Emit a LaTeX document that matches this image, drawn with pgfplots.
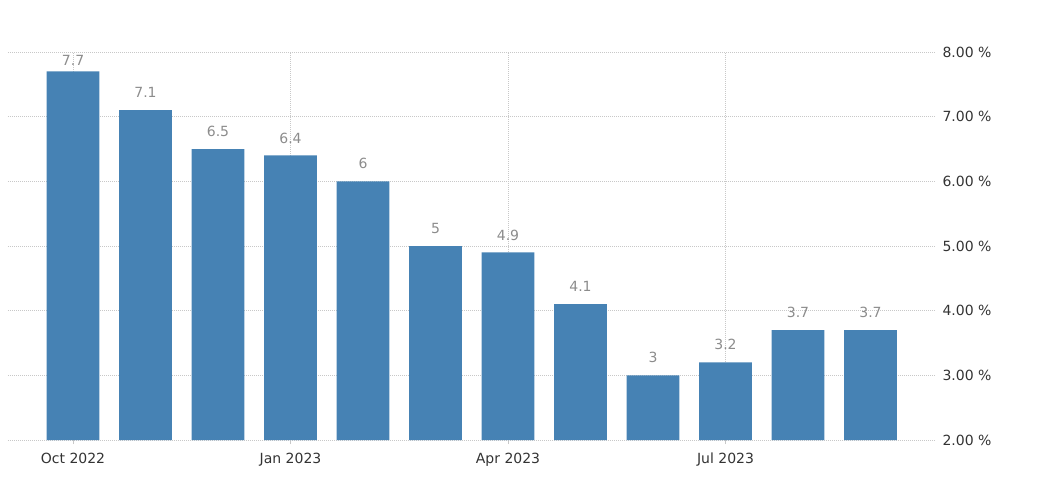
\documentclass[border=0pt]{standalone}
\usepackage{pgfplots}
\pgfplotsset{compat=1.18}
\usepackage{pgfplotstable}
\usepackage{fontspec}
\setmainfont{DejaVu Sans}
\definecolor{barblue}{HTML}{4682B4}
\definecolor{lblgray}{HTML}{8C8C8C}
\definecolor{tickdark}{HTML}{333333}
\definecolor{gridgray}{HTML}{C8C8C8}
\pgfplotstableread{
x y sh
0 7.7 2.7
1 7.1 8.7
2 6.5 8.7
3 6.4 8.7
4 6.0 8.7
5 5.0 8.7
6 4.9 8.7
7 4.1 8.7
8 3.0 8.7
9 3.2 8.7
10 3.7 8.7
11 3.7 8.7
}\datatable
\begin{document}
\begin{tikzpicture}
\path[use as bounding box] (0,0) rectangle (1040pt,488pt);
\begin{axis}[
  at={(8pt,48pt)}, anchor=south west,
  scale only axis, width=927pt, height=388pt,
  xmin=-0.897, xmax=11.89, ymin=2, ymax=8,
  /pgf/number format/assume math mode=true,
  xtick={0,3,6,9},
  xticklabels={Oct 2022, Jan 2023, Apr 2023, Jul 2023},
  ytick={2,3,4,5,6,7,8},
  yticklabels={2.00 \%,3.00 \%,4.00 \%,5.00 \%,6.00 \%,7.00 \%,8.00 \%},
  yticklabel pos=right, ytick pos=right, xtick pos=bottom,
  axis line style={draw=none},
  tick align=outside,
  major tick length=4pt,
  xtick style={draw=gridgray, line width=0.8pt},
  ytick style={draw=none},
  grid=major,
  major grid style={gridgray, line width=0.8pt, dash pattern=on 1pt off 1pt},
  ticklabel style={font=\fontsize{14}{16}\selectfont, text=tickdark},
  xticklabel style={yshift=-5pt, text height=10.5pt, text depth=3pt},
  yticklabel style={anchor=west, xshift=0pt},
  clip mode=individual,
  ybar, bar width=0.73,
  nodes near coords={\pgfmathprintnumber[assume math mode=true]{\pgfplotspointmeta}},
  visualization depends on={\thisrow{sh} \as \lblshift},
  nodes near coords style={font=\fontsize{14}{16}\selectfont, text=lblgray, anchor=south, yshift=\lblshift pt},
  point meta=explicit,
]
\addplot[fill=barblue, draw=none, bar shift=0pt] table[x=x, y=y, meta=y] {\datatable};
\end{axis}
\end{tikzpicture}
\end{document}
